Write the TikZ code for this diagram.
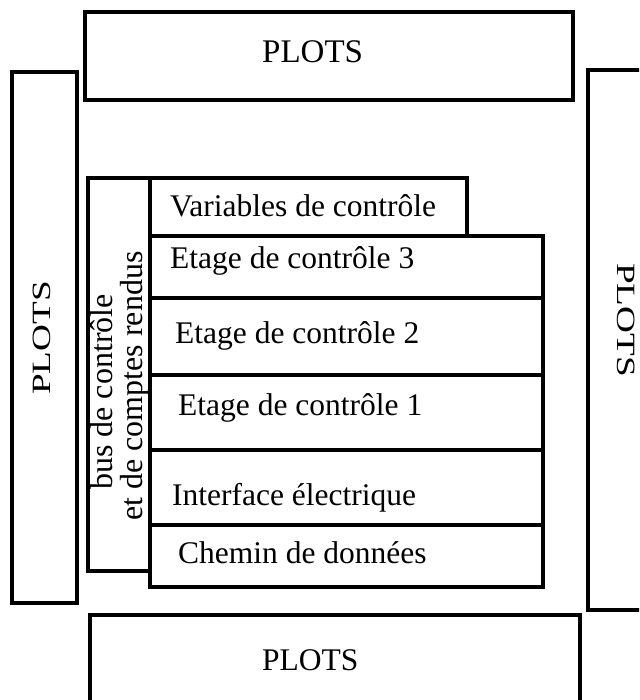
\documentclass[tikz,border=0pt]{standalone}
\usepackage{fontspec}
\setmainfont{Liberation Serif}
\begin{document}
\begin{tikzpicture}[x=1pt,y=-1pt,
  box/.style={draw=black,line width=3.1pt,line join=miter},
  lbl/.style={inner sep=0pt,font=\fontsize{31.5}{31.5}\selectfont},
  plotlbl/.style={inner sep=0pt,font=\fontsize{33}{33}\selectfont},
  buslbl/.style={inner sep=0pt,font=\fontsize{32}{32}\selectfont,rotate=90}]
\useasboundingbox (0,0) rectangle (639,700);
\begin{scope}
\clip (0,0) rectangle (639,700);
% PLOTS boxes
\draw[box] (85,12) rectangle (573,100);
\draw[box] (90,615) rectangle (580,710);
\draw[box] (12,72) rectangle (77,603);
\draw[box] (588,70) rectangle (650,610);
% bus box
\draw[box] (88,178) rectangle (150,571);
% variables box
\draw[box] (150,178) rectangle (467,236);
% stack
\draw[box] (150,236) rectangle (543,587);
\draw[box] (150,298) -- (543,298);
\draw[box] (150,375) -- (543,375);
\draw[box] (150,450) -- (543,450);
\draw[box] (150,525) -- (543,525);
\end{scope}
% labels
\node[plotlbl,anchor=base west] (ptop) at (262,63) {PLOTS};
\node[lbl,anchor=base west] (pbot) at (262,670) {PLOTS};
\node[inner sep=0pt,rotate=90,anchor=center] (pleft) at (42,338)
  {\fontsize{31}{31}\selectfont\scalebox{1.2}[0.85]{PLOTS}};
\node[inner sep=0pt,rotate=-90,anchor=center] (pright) at (626,320)
  {\fontsize{31}{31}\selectfont\scalebox{1.2}[0.85]{PLOTS}};
\node[lbl,anchor=base west] (var) at (170,217) {Variables de contrôle};
\node[lbl,anchor=base west] (e3) at (170,268) {Etage de contrôle 3};
\node[lbl,anchor=base west] (e2) at (175,343) {Etage de contrôle 2};
\node[lbl,anchor=base west] (e1) at (178,415) {Etage de contrôle 1};
\node[lbl,anchor=base west] (ie) at (172,505) {Interface électrique};
\node[lbl,anchor=base west] (cd) at (178,563) {Chemin de données};
\node[buslbl,anchor=base] (bus1) at (112,392) {bus de contrôle};
\node[buslbl,anchor=base] (bus2) at (142,386) {et de comptes rendus};
\end{tikzpicture}
\end{document}
